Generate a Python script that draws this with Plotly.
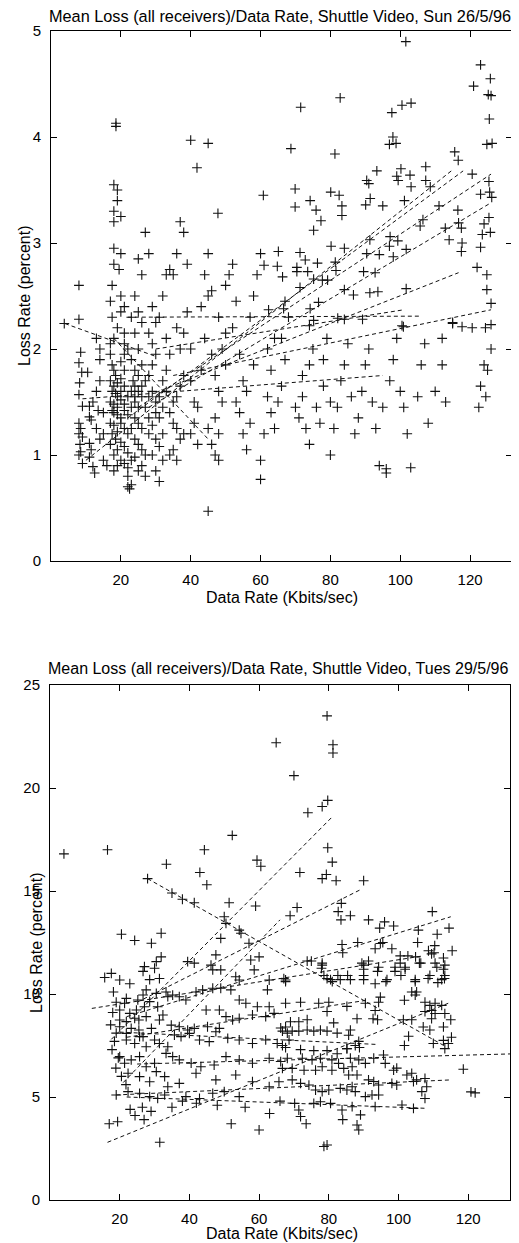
import plotly.graph_objects as go

# ---------------- DATA (Sun 26/5/96) ----------------
TOP_POINTS = [
    (3.8, 2.24),
    (8, 2.6), (8, 2.28), (8.5, 1.97), (8, 1.87), (8.8, 1.78), (8.2, 1.68), (8, 1.57), (9, 1.46), (8, 1.3),
    (8.5, 1.25), (8, 1.2), (9, 1.17), (8.3, 1.1), (8.5, 1.03), (8, 1.0), (9, 0.92), (10.5, 1.78), (11, 1.46),
    (11, 1.36), (11.5, 1.33), (11, 1.11), (11.5, 1.05), (11, 0.98), (12, 0.89), (12.5, 0.83), (13, 1.25),
    (13, 1.6), (12, 1.5), (13.5, 1.42), (14, 1.7), (14, 1.9), (13, 2.1), (14, 2.0), (15, 1.4), (15, 1.2),
    (15, 0.95), (16, 0.9), (14, 1.15),
    (17, 1.95), (17, 2.05), (17.5, 2.3), (17, 2.45), (17.5, 2.6), (18, 2.8), (18, 2.95), (18, 3.2), (18, 3.3),
    (18, 3.55), (19, 3.5), (18.6, 4.13), (18.6, 4.1), (19, 3.4), (20, 3.25), (20, 2.9), (19.5, 2.75), (20, 2.5),
    (21, 2.4), (20, 2.35), (19, 2.2), (21, 2.15), (18, 2.1), (17.5, 1.85), (18, 1.8), (18.5, 1.75), (17, 1.7),
    (19, 1.68), (18, 1.65), (17.5, 1.6), (18.5, 1.58), (19, 1.55), (17, 1.5), (18, 1.48), (19, 1.45),
    (17.5, 1.42), (18, 1.4), (19, 1.38), (20, 1.35), (17, 1.3), (18, 1.28), (19, 1.22), (17.5, 1.2),
    (18.5, 1.15), (17, 1.1), (19, 1.05), (18, 1.0), (20, 0.95), (19, 0.9), (18, 0.85), (20, 1.6), (21, 1.65),
    (20, 1.72), (21, 1.8), (20, 1.88), (21, 1.95), (22, 2.0), (21, 2.05), (20, 1.52), (21, 1.48), (22, 1.55),
    (21, 1.42), (22, 1.38), (20, 1.3), (21, 1.25), (22, 1.2), (20, 1.12), (21, 1.08), (22, 1.02), (21, 0.92),
    (22, 0.88), (22, 0.7), (22.5, 0.68), (23, 0.72), (22, 0.8), (23, 0.95),
    (23, 1.6), (24, 1.65), (23.5, 1.7), (24, 1.55), (25, 1.6), (24, 1.5), (25, 1.45), (23, 1.45), (26, 1.55),
    (26, 1.65), (25, 1.75), (24, 1.8), (26, 1.85), (23, 1.9), (25, 2.0), (24, 2.15), (26, 2.25), (23, 2.3),
    (25, 2.35), (24, 2.5), (26, 2.7), (25, 2.85), (28, 2.9), (27, 3.1), (24, 1.35), (25, 1.3), (26, 1.25),
    (23, 1.25), (24, 1.15), (25, 1.1), (26, 1.05), (27, 1.0), (24, 0.98), (26, 0.9), (25, 0.85), (27, 0.8),
    (28, 1.2), (28, 1.35), (27, 1.45), (28, 1.55), (29, 1.6), (27, 1.7), (28, 1.75), (29, 1.85), (30, 1.95),
    (29, 2.05), (28, 2.15), (30, 2.25), (29, 2.4), (31, 2.3), (30, 1.5), (31, 1.55), (30, 1.4), (31, 1.35),
    (29, 1.28), (30, 1.15), (31, 1.08), (29, 1.0), (32, 0.95), (30, 0.85), (31, 0.75), (32, 1.2), (32, 1.45),
    (33, 1.6), (32, 1.7), (33, 1.8), (34, 1.95), (33, 2.1), (32, 2.5), (33, 2.7), (34, 2.75), (35, 2.7),
    (36, 2.9), (34, 1.4), (35, 1.5), (36, 1.55), (35, 1.3), (36, 1.25), (37, 1.15), (35, 1.05), (36, 0.95),
    (34, 1.0), (38, 1.2), (37, 1.65), (38, 1.75), (37, 2.0), (38, 2.15), (36, 2.2), (39, 2.35), (38, 3.1),
    (37, 3.2), (39, 2.8), (40, 2.0), (40, 1.7), (41, 1.5), (42, 1.45), (41, 1.3), (40, 1.2), (42, 1.1),
    (43, 1.8), (44, 2.1), (43, 2.4), (45, 2.5), (44, 2.7), (45, 2.9), (46, 2.55), (46, 1.95), (47, 1.75),
    (45, 1.25), (45, 0.47), (47, 1.0), (48, 0.95), (46, 1.1), (48, 1.2), (47, 1.35), (49, 1.5), (48, 1.6),
    (50, 1.85), (49, 2.0), (50, 2.15), (48, 2.3), (51, 2.7), (50, 2.6), (52, 2.8), (53, 2.45), (52, 2.2),
    (54, 1.95), (55, 1.7), (53, 1.5), (54, 1.4), (55, 1.2), (56, 1.05), (57, 1.3), (56, 1.6), (58, 1.85),
    (57, 2.3), (58, 2.5), (59, 2.7), (60, 2.9), (60, 0.95), (60, 0.77), (61, 1.2), (62, 1.55), (63, 1.8),
    (62, 2.0), (64, 2.1), (63, 1.4), (64, 1.25), (65, 1.5), (66, 1.65), (67, 1.9), (66, 2.1), (68, 2.3),
    (67, 2.45), (70, 1.45), (71, 1.35), (72, 1.55), (73, 1.25), (72, 1.75), (74, 1.85), (75, 2.0), (74, 1.1),
    (76, 1.45), (77, 1.3), (78, 1.65), (78, 1.9), (79, 2.1), (80, 1.5), (81, 1.25), (80, 1.0), (82, 1.45),
    (83, 1.7), (84, 1.85), (85, 2.05), (86, 1.55), (88, 1.35), (87, 1.2), (89, 1.6), (90, 1.85), (91, 2.0),
    (92, 1.5), (93, 1.25), (94, 0.9), (96, 0.87), (96, 0.83), (95, 1.45), (97, 1.7), (98, 1.9), (99, 2.1),
    (100, 1.6), (101, 1.45), (102, 1.2), (103, 0.88), (105, 1.55), (106, 1.85), (107, 2.05), (108, 1.3),
    (110, 1.6), (112, 1.85), (113, 1.5), (112, 2.1), (115, 2.25),
    (40, 3.97), (41.8, 3.71), (45, 3.94), (47.8, 3.28), (101.6, 4.9), (121, 4.48), (123, 4.68), (125.8, 4.55),
    (125.2, 4.40), (126, 4.39), (125.5, 4.17), (124.8, 3.93), (126.3, 3.94), (115.6, 3.86), (116.6, 3.78),
    (120.6, 3.65), (125.4, 3.58), (123, 3.46), (125.6, 3.48), (126.2, 3.43), (125.4, 3.24), (124, 3.18),
    (125.8, 3.10), (123.5, 3.08), (123, 2.96), (122, 2.77), (124.8, 2.70), (124.8, 2.56), (126, 2.43),
    (126, 2.23), (124, 1.85), (125, 1.8), (123, 1.65), (124.5, 1.55), (122.5, 1.45), (126, 2.0),
    (71.5, 4.28), (82.8, 4.37), (97.6, 4.23), (100.5, 4.30), (103.1, 4.32), (68.7, 3.89), (81.3, 3.84),
    (97.9, 4.0), (96.9, 3.93), (98.8, 3.94), (93.3, 3.68), (100.2, 3.70), (107.3, 3.72), (99, 3.63),
    (99.4, 3.59), (102.8, 3.64), (103.1, 3.53), (107.3, 3.59), (108.6, 3.53), (90.4, 3.59), (91, 3.56),
    (91.4, 3.42), (90.1, 3.36), (95, 3.35), (101.2, 3.40), (111.1, 3.35), (116.5, 3.31), (69.9, 3.51),
    (60.8, 3.45), (74.2, 3.40), (75.9, 3.31), (69.9, 3.34), (80.1, 3.48), (82.5, 3.45), (83.3, 3.35),
    (83.3, 3.26), (77.3, 3.21), (75.2, 3.12), (106.5, 3.22), (105.7, 3.16), (116.7, 3.19), (117.5, 3.14),
    (112.9, 3.14), (97.1, 3.06), (99.3, 3.02), (91.3, 3.03), (96.9, 2.97), (114, 3.03), (117.7, 3.0),
    (117.5, 2.92), (80.2, 2.97), (84, 2.95), (65.1, 2.92), (71.3, 2.91), (61, 2.79), (64.8, 2.78),
    (70.4, 2.77), (66.3, 2.68), (72.8, 2.84), (76.3, 2.81), (81.4, 2.82), (81.6, 2.74), (90.4, 2.90),
    (94, 2.89), (98, 2.87), (101.7, 2.94), (70.4, 2.73), (73.5, 2.73), (75.2, 2.66), (77.7, 2.65),
    (79.2, 2.65), (89.5, 2.73), (92.8, 2.72), (71.3, 2.58), (84, 2.56), (86.6, 2.51), (91.3, 2.53),
    (93.6, 2.54), (101.7, 2.57), (62.3, 2.37), (66.6, 2.38), (74.2, 2.38), (76.6, 2.44), (82.1, 2.29),
    (84, 2.28), (89.2, 2.28), (74, 2.22), (75.2, 2.27), (100.5, 2.22), (100.9, 2.21), (115, 2.24),
    (117.7, 2.21), (120.6, 2.20), (124.4, 2.20),
]

# dashed fit lines (start rate, start loss, end rate, end loss)
TOP_FITS = [
    (10, 0.95, 115, 3.69), (22, 1.35, 118, 3.68), (25, 1.45, 126, 3.65), (28, 1.45, 126, 3.38),
    (30, 1.59, 116.7, 2.72), (35, 1.75, 126, 2.37), (22, 2.30, 106, 2.31), (30, 2.0, 101, 2.37),
    (4, 2.24, 30, 1.93), (18, 2.10, 45, 1.15), (9, 1.53, 95, 1.75),
]

# ---------------- DATA (Tues 29/5/96) ----------------
BOT_POINTS = [
    (79.5, 23.5), (81.2, 22.1), (81.2, 21.7), (70, 20.6), (64.9, 22.2), (79.7, 19.4), (78.1, 19.1),
    (74, 18.8), (79.7, 17.1), (81, 16.4), (71.7, 15.9), (78.1, 15.6), (79.3, 15.8), (82.1, 15.5), (90, 15.5),
    (70.9, 14.2), (68.9, 13.8), (83.6, 14.4), (82.7, 14.0), (83.5, 13.6), (86.2, 13.8), (91.4, 13.6),
    (94.6, 13.2), (96, 13.5), (98.6, 13.3), (109.7, 14.0), (105.7, 13.1), (111.1, 12.9), (114.5, 13.2),
    (83.8, 12.4), (84, 12.0), (88.3, 12.5), (94.8, 12.45), (93.3, 12.2), (95.5, 12.5), (98.1, 12.2),
    (105.5, 12.5), (110.4, 12.35), (110.2, 12.0), (115.4, 12.1), (75, 11.6), (78.1, 11.4), (89.5, 11.5),
    (91.4, 11.6), (90, 11.2), (100.5, 11.85), (102.7, 11.85), (100.5, 11.5), (106, 11.5), (104.9, 11.8),
    (106.4, 11.5), (108.6, 12.1), (109.5, 11.95), (112.9, 11.75), (111, 11.3), (112.9, 11.2), (94, 11.1),
    (99, 11.1), (100.7, 10.9), (101.9, 11.2), (77.9, 11.25), (78.6, 10.9), (81, 10.6), (83.3, 10.7),
    (86.2, 10.7), (90, 10.7), (96.4, 10.6), (104.8, 10.6), (108.5, 10.75), (111.3, 10.55), (113.2, 10.75),
    (67.6, 10.6),
    (73.8, 11.6), (78.1, 11.5), (90, 11.4), (94.3, 11.3), (99, 11.3), (101.9, 11.3), (110.5, 11.5),
    (113.3, 11.4), (67.1, 10.75), (79.5, 10.75), (80.5, 10.7), (82.6, 10.9), (85.4, 10.9), (90, 10.9),
    (93.3, 10.5), (96.7, 10.7), (104.8, 10.7), (109, 10.9), (112.4, 10.7), (113.3, 10.9),
    (103.8, 10.1), (105.2, 10.1), (104.8, 9.95), (101.7, 9.7), (107.6, 9.6), (109, 9.45), (110.5, 9.55),
    (112.4, 9.45), (107.6, 9.15), (109.5, 9.2), (110.5, 9.05), (113.3, 9.05), (115, 8.75), (109.5, 8.8),
    (107.1, 8.4), (109, 8.25), (112.9, 8.4), (115.2, 7.9), (112.9, 7.75), (110, 7.6), (113.3, 7.35),
    (114.3, 7.6), (118.6, 6.35), (120.8, 5.25), (101.4, 8.75), (103.8, 8.75), (102.9, 7.95), (101.7, 7.5),
    (94.8, 9.85), (94.3, 9.6), (93.3, 9.2), (94, 8.75), (92.7, 8.8), (85.2, 9.4), (88.1, 8.8), (90.5, 9.55),
    (86.2, 8.25), (85.7, 8.0), (87.6, 7.5), (88.6, 7.7), (85.2, 7.35), (81.4, 8.6), (82.4, 8.1), (77.6, 8.25),
    (79.5, 8.2), (75.7, 8.2), (73.8, 8.25), (71.4, 8.2), (69.5, 8.2), (68.1, 8.1), (66.7, 8.2), (69, 8.65),
    (71.4, 8.65), (73.8, 8.75), (67.6, 8.4), (66.2, 8.35), (71.9, 9.6), (77.1, 9.55), (80, 9.6),
    (79.5, 9.15), (66.7, 7.5), (67.6, 7.4), (71.9, 7.3), (75.7, 7.25), (79.5, 7.25), (82.4, 7.1),
    (85.2, 7.35), (88.8, 7.4), (68.1, 6.88), (72.4, 6.88), (75.2, 6.8), (77.6, 6.88), (80.9, 6.8),
    (82.8, 6.63), (86.2, 6.88), (88.6, 6.8), (92.9, 6.88), (95.7, 7.04), (96.2, 6.63), (98.6, 6.3),
    (99.5, 6.4), (90.5, 6.63), (86.7, 6.47), (66.7, 6.39), (69.5, 6.39), (72.9, 6.3), (76.2, 6.3),
    (78.1, 6.47), (80.9, 6.3), (84.3, 6.39), (85.7, 6.07), (88.1, 6.07), (91.4, 5.83), (92.9, 5.75),
    (94.3, 5.58), (98.1, 5.66), (102.4, 6.07), (103.8, 6.15), (107.6, 5.9), (108.1, 5.5), (106.7, 5.26),
    (107.6, 4.93), (69.5, 5.83), (71.9, 5.66), (74.3, 5.58), (76.2, 5.34), (78.1, 5.26), (80, 5.34),
    (83.3, 5.42), (85.2, 5.34), (86.7, 5.5), (87.6, 5.26), (90.5, 5.02), (92.4, 5.1), (94.3, 5.1),
    (99.5, 5.58), (104.3, 5.75), (105.2, 5.83), (70.2, 4.69), (71.4, 4.37), (71.9, 4.05), (75.7, 4.69),
    (77.6, 4.77), (80.5, 4.69), (83.8, 4.37), (86.7, 4.53), (89.1, 4.13), (93.3, 4.53), (101, 4.61),
    (104.3, 4.45), (88.1, 3.64), (88.6, 3.4), (79.5, 2.67),
    (41.4, 14.43), (51.4, 14.43), (59, 14.27), (20.5, 12.9), (24.3, 12.6), (29.1, 12.46), (31.9, 12.95),
    (50, 13.75), (50.5, 13.43), (49, 12.7), (54.3, 13.1), (54.8, 12.95), (39.5, 11.57), (41.4, 11.5),
    (46.2, 11.4), (46.7, 11.17), (31.9, 11.8), (30.5, 11.57), (27.1, 11.33), (30, 11.25), (26.7, 11.1),
    (17.6, 11.0), (20, 10.68), (22.9, 10.5), (28.6, 10.7), (31.4, 10.75), (47.6, 11.9), (49, 11.17),
    (54.3, 10.68), (57.1, 12.46), (57.6, 11.65), (60, 11.8), (58.6, 11.17), (53.3, 10.84), (62.9, 10.68),
    (67.6, 10.68), (62.4, 10.2), (27.6, 10.2), (30.5, 10.03), (33.3, 10.1), (21.9, 9.79), (25.2, 9.71),
    (26.7, 9.95), (28.6, 9.63), (21.4, 9.55), (20, 9.22), (22.9, 9.06), (24.8, 9.22), (27.1, 9.38),
    (30.9, 9.38), (33.8, 9.87), (35.2, 9.95), (37.1, 9.87), (39.0, 9.71), (41.9, 10.1), (43.8, 10.2),
    (46.7, 10.28), (49, 10.28), (51.9, 10.2), (44.8, 9.22), (48.6, 9.22), (50.5, 8.9), (54.3, 9.71),
    (56.2, 9.55), (59.5, 9.38), (62.9, 9.38), (64.3, 9.06), (67.6, 9.55), (20, 8.74), (21.9, 8.66),
    (24.3, 8.82), (25.5, 8.74), (27.6, 8.9), (23.3, 8.33), (25.5, 8.25), (20, 8.41), (21.9, 8.09),
    (26.7, 7.93), (29.1, 8.33), (31.4, 8.74), (32.4, 8.98), (34.8, 8.49), (37.1, 8.41), (39.5, 8.25),
    (41.4, 8.33), (45.2, 8.41), (48.6, 8.33), (52.4, 8.74), (54.3, 8.82), (58.1, 8.98), (61.9, 8.9),
    (21.9, 7.77), (24.3, 7.6), (25.7, 7.93), (27.6, 7.44), (30, 7.77), (31.4, 7.6), (33.8, 7.44),
    (35.7, 8.01), (37.6, 7.93), (40, 8.09), (42.9, 7.77), (45.7, 7.69), (47.6, 8.17), (51, 7.85),
    (54.3, 7.77), (58.1, 7.6), (61.9, 7.77), (65.2, 7.6), (68.6, 7.77), (20, 6.96), (21.4, 6.64),
    (23.3, 6.8), (25.7, 6.96), (27.6, 6.47), (30, 6.64), (33.3, 7.12), (35.2, 6.96), (37.1, 6.8),
    (40.5, 6.64), (43.3, 6.47), (47.1, 6.55), (50.5, 6.96), (54.3, 6.8), (58.1, 6.64), (62.9, 6.88),
    (66.2, 6.72), (22.4, 6.15), (25.7, 5.99), (28.6, 5.74), (30.5, 6.23), (32.9, 5.99), (33.8, 5.5),
    (37.1, 5.66), (41.9, 6.15), (47.6, 5.83), (53.3, 6.07), (58.1, 5.74), (62.9, 5.5), (65.7, 5.74),
    (19, 5.1), (22.4, 5.26), (25.7, 5.18), (28.6, 5.02), (30.9, 4.93), (32.9, 5.1), (39, 5.02),
    (42.9, 4.93), (46.7, 5.18), (50, 5.26), (54.3, 5.02),
    (4, 16.8), (16.5, 17.0), (33.4, 16.3), (44.3, 17.0), (43, 15.9), (52.3, 17.7), (59.4, 16.5),
    (60.5, 16.2), (28, 15.6), (45, 15.3), (35, 14.9), (38, 14.6),
    (15.7, 10.8), (18.2, 10.1), (19, 9.6), (18, 9.1), (17.4, 8.5), (19, 8.1), (18.5, 7.7), (17.8, 7.3),
    (19.6, 6.9), (18.9, 6.4), (20.5, 6.0), (21.8, 5.6), (19.4, 3.8), (17, 3.7), (23, 4.4), (24.4, 4.1),
    (26.5, 4.5), (27, 3.9), (29, 4.3), (31.5, 2.8), (35, 4.5), (38, 4.8), (42, 4.7), (48, 4.6), (52, 3.7),
    (56, 4.5), (60, 3.4), (63, 4.2), (66, 4.8), (78.6, 2.6), (122, 5.2), (73.5, 3.7), (84, 3.9),
]

BOT_FITS = [
    (17.6, 7.8, 81, 18.6), (21, 5.7, 66, 13.6), (25, 9.6, 89.5, 15.1), (28, 15.6, 113, 7.5),
    (22, 8.9, 115, 13.75), (12, 9.3, 107, 11.85), (22, 7.9, 91, 9.7), (16.5, 2.8, 115, 9.6),
    (20, 8.15, 94, 7.55), (25, 6.6, 134, 7.1), (19, 5.1, 115, 5.83), (22, 5.0, 108, 4.45),
]

TOP_TITLE = "Mean Loss (all receivers)/Data Rate, Shuttle Video, Sun 26/5/96"
BOT_TITLE = "Mean Loss (all receivers)/Data Rate, Shuttle Video, Tues 29/5/96"
X_LABEL = "Data Rate (Kbits/sec)"
Y_LABEL = "Loss Rate (percent)"
X_TICKS = [20, 40, 60, 80, 100, 120]
TOP_Y_TICKS = [0, 1, 2, 3, 4, 5]
BOT_Y_TICKS = [0, 5, 10, 15, 20, 25]

# ---------------- FIGURE ----------------
# The page body keeps the browser's default 8px margin, so the figure is drawn
# 8px smaller and all layout positions (measured on the 519x1243 page) are shifted.
PAGE_OFF = 8
W, H = 519 - PAGE_OFF, 1243 - PAGE_OFF
FONT = "Liberation Sans, Arial, Helvetica, sans-serif"

def fx(px):
    return (px - PAGE_OFF) / W

def fy(py):
    return 1 - (py - PAGE_OFF) / H

fig = go.Figure()

def add_panel(points, fits, xa, ya):
    fig.add_trace(go.Scatter(
        x=[p[0] for p in points], y=[p[1] for p in points], mode="markers",
        marker=dict(symbol="cross-thin", size=7, line=dict(width=1.1, color="#111")),
        xaxis=xa, yaxis=ya, showlegend=False, hoverinfo="skip"))
    for (x0, y0, x1, y1) in fits:
        fig.add_trace(go.Scatter(
            x=[x0, x1], y=[y0, y1], mode="lines",
            line=dict(color="#111", width=1, dash="4px,3px"),
            xaxis=xa, yaxis=ya, showlegend=False, hoverinfo="skip"))

add_panel(TOP_POINTS, TOP_FITS, "x", "y")
add_panel(BOT_POINTS, BOT_FITS, "x2", "y2")

tick_font = dict(family=FONT, size=15, color="black")
label_font = dict(family=FONT, size=16, color="black")

axis_common = dict(showline=True, linecolor="black", linewidth=1, mirror="ticks",
                   ticks="inside", ticklen=6, tickcolor="black", tickwidth=1,
                   showgrid=False, zeroline=False, automargin=False, tickfont=tick_font)

def note(text, x, y, font, angle=0, xanchor="center"):
    return dict(text=text, x=fx(x), y=fy(y), xref="paper", yref="paper", showarrow=False,
                font=font, textangle=angle, xanchor=xanchor, yanchor="middle")

fig.update_layout(
    width=W, height=H, paper_bgcolor="white", plot_bgcolor="white",
    margin=dict(l=0, r=0, t=0, b=0),
    xaxis=dict(domain=[fx(51), fx(512)], range=[0, 132], tickvals=X_TICKS, anchor="y",
               ticklabelstandoff=5, **axis_common),
    yaxis=dict(domain=[fy(561), fy(31)], range=[0, 5], tickvals=TOP_Y_TICKS, anchor="x",
               ticklabelstandoff=6, **axis_common),
    xaxis2=dict(domain=[fx(50), fx(510)], range=[0, 132], tickvals=X_TICKS, anchor="y2",
                ticklabelstandoff=5, **axis_common),
    yaxis2=dict(domain=[fy(1200), fy(685)], range=[0, 25], tickvals=BOT_Y_TICKS, anchor="x2",
                ticklabelstandoff=6, **axis_common),
    annotations=[
        note(TOP_TITLE, 47, 16, dict(family=FONT, size=16.3, color="black"), xanchor="left"),
        note(BOT_TITLE, 46, 668, dict(family=FONT, size=16, color="black"), xanchor="left"),
        note(X_LABEL, 282, 597, label_font),
        note(X_LABEL, 282, 1233, label_font),
        note(Y_LABEL, 24, 296, label_font, angle=-90),
        note(Y_LABEL, 36, 943, label_font, angle=-90),
    ],
)

fig.write_html("out.html")
